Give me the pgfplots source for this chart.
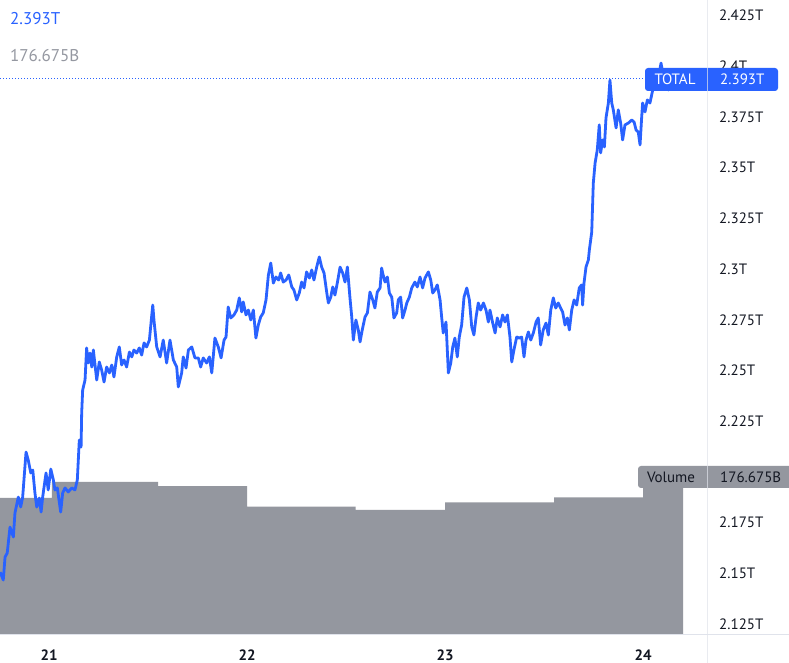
\documentclass[border=0pt]{standalone}
\usepackage{fontspec}
\setmainfont{PT Sans}
\usepackage{pgfplots}
\pgfplotsset{compat=1.18}
\definecolor{tvblue}{HTML}{2962FF}
\definecolor{volgrey}{HTML}{94979F}
\definecolor{txtdark}{HTML}{131722}
\definecolor{txtgrey}{HTML}{9598A1}
\definecolor{sepgrey}{HTML}{E0E3EB}
\begin{document}
\begin{tikzpicture}[x=1pt,y=1pt]
\useasboundingbox (0,0) rectangle (789,663);
\fill[white] (0,0) rectangle (789,663);
% volume (own scale, in billions)
\begin{axis}[at={(0pt,28pt)}, anchor=south west, scale only axis,
  width=707pt, height=635pt, xmin=20.7525, xmax=24.3232, ymin=0, ymax=710.1, hide axis]
\addplot[const plot, fill=volgrey, draw=none] coordinates {
(20.7525,153.2) (21.015,171.1) (21.551,166.6) (22.0,143.5) (22.548,139.8)
(23.0,148.4) (23.551,154.0) (24.0,176.675) (24.202,176.675)} \closedcycle;
\end{axis}
% total market cap (trillions)
\begin{axis}[at={(0pt,28pt)}, anchor=south west, scale only axis,
  width=707pt, height=635pt, xmin=20.7525, xmax=24.3232, ymin=2.11958, ymax=2.43269,
  axis line style={draw=none}, major tick length=0pt,
  xtick={21,22,23,24}, xticklabels={21,22,23,24},
  ytick={2.125,2.15,2.175,2.225,2.25,2.275,2.3,2.325,2.35,2.375,2.4,2.425},
  yticklabels={2.125T,2.15T,2.175T,2.225T,2.25T,2.275T,2.3T,2.325T,2.35T,2.375T,2.4T,2.425T},
  yticklabel pos=right,
  yticklabel style={anchor=west, inner sep=0pt, xshift=12pt, font=\fontsize{15}{18}\selectfont, text=txtdark},
  xticklabel style={anchor=center, inner sep=0pt, yshift=-20pt, font=\bfseries\fontsize{15}{18}\selectfont, text=txtdark},
  ]
\addplot[tvblue, line width=2.8pt, line join=round] coordinates {
(20.753,2.1506) (20.769,2.1467) (20.778,2.1580) (20.789,2.1600) (20.803,2.1728)
(20.820,2.1679) (20.828,2.1797) (20.845,2.1876) (20.857,2.1827) (20.867,2.1876)
(20.884,2.2098) (20.895,2.2059) (20.908,2.1995) (20.918,2.2009) (20.929,2.1896)
(20.938,2.1827) (20.951,2.1871) (20.960,2.1802) (20.968,2.1876) (20.985,2.1995)
(20.996,2.1911) (21.009,2.2014) (21.022,2.1960) (21.030,2.1911) (21.042,2.1921)
(21.059,2.1802) (21.069,2.1896) (21.081,2.1921) (21.097,2.1901) (21.115,2.1921)
(21.131,2.1911) (21.143,2.1960) (21.153,2.2157) (21.162,2.2123) (21.165,2.2290)
(21.170,2.2404) (21.182,2.2453) (21.190,2.2611) (21.198,2.2537) (21.207,2.2586)
(21.216,2.2517) (21.224,2.2601) (21.241,2.2453) (21.254,2.2542) (21.266,2.2502)
(21.278,2.2443) (21.291,2.2517) (21.305,2.2488) (21.317,2.2527) (21.328,2.2468)
(21.342,2.2567) (21.355,2.2616) (21.367,2.2527) (21.379,2.2552) (21.392,2.2517)
(21.406,2.2591) (21.418,2.2567) (21.429,2.2601) (21.443,2.2586) (21.456,2.2611)
(21.468,2.2576) (21.480,2.2636) (21.493,2.2616) (21.507,2.2650) (21.524,2.2823)
(21.530,2.2749) (21.544,2.2616) (21.561,2.2567) (21.577,2.2650) (21.594,2.2537)
(21.611,2.2650) (21.628,2.2552) (21.645,2.2517) (21.653,2.2419) (21.670,2.2488)
(21.678,2.2567) (21.692,2.2512) (21.704,2.2601) (21.721,2.2616) (21.737,2.2562)
(21.754,2.2562) (21.766,2.2517) (21.779,2.2562) (21.796,2.2537) (21.810,2.2567)
(21.822,2.2488) (21.838,2.2660) (21.855,2.2616) (21.869,2.2562) (21.884,2.2650)
(21.894,2.2665) (21.905,2.2813) (21.918,2.2759) (21.934,2.2774) (21.948,2.2798)
(21.961,2.2858) (21.973,2.2789) (21.981,2.2838) (21.995,2.2774) (22.007,2.2798)
(22.019,2.2749) (22.032,2.2798) (22.045,2.2660) (22.057,2.2724) (22.069,2.2764)
(22.082,2.2784) (22.096,2.2848) (22.108,2.2971) (22.120,2.3030) (22.133,2.2931)
(22.146,2.2961) (22.160,2.2946) (22.170,2.2981) (22.183,2.2936) (22.197,2.2946)
(22.211,2.2971) (22.226,2.2912) (22.237,2.2897) (22.251,2.2848) (22.264,2.2882)
(22.276,2.2936) (22.288,2.2907) (22.301,2.2986) (22.315,2.2956) (22.327,2.2996)
(22.338,2.2946) (22.352,2.3010) (22.365,2.3060) (22.377,2.3010) (22.389,2.2981)
(22.403,2.2882) (22.411,2.2833) (22.423,2.2862) (22.433,2.2912) (22.444,2.2872)
(22.456,2.2931) (22.470,2.3010) (22.483,2.2981) (22.495,2.2936) (22.507,2.3010)
(22.520,2.2858) (22.529,2.2764) (22.537,2.2650) (22.550,2.2749) (22.562,2.2700)
(22.571,2.2641) (22.582,2.2700) (22.596,2.2764) (22.608,2.2784) (22.621,2.2887)
(22.635,2.2848) (22.646,2.2808) (22.658,2.2887) (22.672,2.2907) (22.680,2.3005)
(22.685,2.2981) (22.697,2.2936) (22.709,2.2961) (22.719,2.2882) (22.731,2.2862)
(22.742,2.2759) (22.756,2.2784) (22.764,2.2848) (22.776,2.2862) (22.786,2.2759)
(22.798,2.2798) (22.807,2.2833) (22.820,2.2862) (22.832,2.2907) (22.848,2.2936)
(22.860,2.2912) (22.874,2.2961) (22.887,2.2907) (22.899,2.2956) (22.916,2.2986)
(22.928,2.2946) (22.938,2.2882) (22.949,2.2897) (22.961,2.2922) (22.975,2.2848)
(22.983,2.2764) (22.991,2.2685) (23.005,2.2739) (23.017,2.2488) (23.029,2.2537)
(23.039,2.2616) (23.050,2.2660) (23.062,2.2567) (23.072,2.2665) (23.084,2.2724)
(23.096,2.2862) (23.110,2.2907) (23.123,2.2848) (23.135,2.2715) (23.146,2.2675)
(23.157,2.2764) (23.168,2.2833) (23.180,2.2798) (23.194,2.2833) (23.207,2.2798)
(23.219,2.2739) (23.227,2.2798) (23.241,2.2734) (23.253,2.2685) (23.264,2.2759)
(23.278,2.2715) (23.291,2.2774) (23.303,2.2739) (23.315,2.2774) (23.328,2.2665)
(23.337,2.2542) (23.348,2.2601) (23.362,2.2665) (23.375,2.2660) (23.387,2.2665)
(23.399,2.2567) (23.409,2.2650) (23.421,2.2690) (23.433,2.2650) (23.446,2.2685)
(23.460,2.2739) (23.471,2.2759) (23.483,2.2626) (23.496,2.2700) (23.510,2.2734)
(23.522,2.2675) (23.534,2.2798) (23.547,2.2858) (23.559,2.2808) (23.572,2.2833)
(23.584,2.2808) (23.594,2.2789) (23.606,2.2724) (23.618,2.2759) (23.628,2.2700)
(23.640,2.2798) (23.652,2.2848) (23.665,2.2823) (23.678,2.2907) (23.690,2.2922)
(23.695,2.2823) (23.702,2.2931) (23.712,2.3010) (23.724,2.3045) (23.729,2.3094)
(23.741,2.3183) (23.749,2.3425) (23.758,2.3523) (23.769,2.3587) (23.779,2.3711)
(23.786,2.3573) (23.796,2.3637) (23.805,2.3602) (23.813,2.3745) (23.825,2.3819)
(23.833,2.3932) (23.842,2.3819) (23.850,2.3785) (23.864,2.3696) (23.875,2.3785)
(23.887,2.3720) (23.897,2.3637) (23.909,2.3711) (23.926,2.3720) (23.943,2.3735)
(23.955,2.3725) (23.965,2.3686) (23.976,2.3676) (23.985,2.3612) (23.993,2.3745)
(23.998,2.3819) (24.010,2.3775) (24.022,2.3834) (24.035,2.3819) (24.049,2.3883)
(24.061,2.3923) (24.072,2.3947) (24.082,2.3967) (24.091,2.4016) (24.103,2.3947)
(24.116,2.3908) (24.128,2.3883) (24.134,2.3930)};
\end{axis}
% chart furniture
\draw[sepgrey, line width=1pt] (0,28) -- (789,28);
\node[anchor=west, inner sep=0pt, text=tvblue, font=\fontsize{17}{20}\selectfont] at (10,644.5) {2.393T};
\node[anchor=west, inner sep=0pt, text=txtgrey, font=\fontsize{17}{20}\selectfont] at (10,607) {176.675B};
\draw[tvblue, line width=1pt, dash pattern=on 1pt off 2pt] (0,584) -- (645,584);
\fill[tvblue, rounded corners=3pt] (645,572) rectangle (778,595);
\node[text=white, inner sep=0pt, font=\fontsize{15}{18}\selectfont] at (675,583.5) {TOTAL};
\node[anchor=west, text=white, inner sep=0pt, font=\fontsize{15}{18}\selectfont] at (720,583.5) {2.393T};
\fill[volgrey, rounded corners=3pt] (638,175) rectangle (795,197);
\node[text=txtdark, inner sep=0pt, font=\fontsize{15}{18}\selectfont] at (671,186) {Volume};
\node[anchor=west, text=txtdark, inner sep=0pt, font=\fontsize{15}{18}\selectfont] at (720,186) {176.675B};
\draw[sepgrey, line width=1pt, opacity=0.7] (707,0) -- (707,663);
\end{tikzpicture}
\end{document}
